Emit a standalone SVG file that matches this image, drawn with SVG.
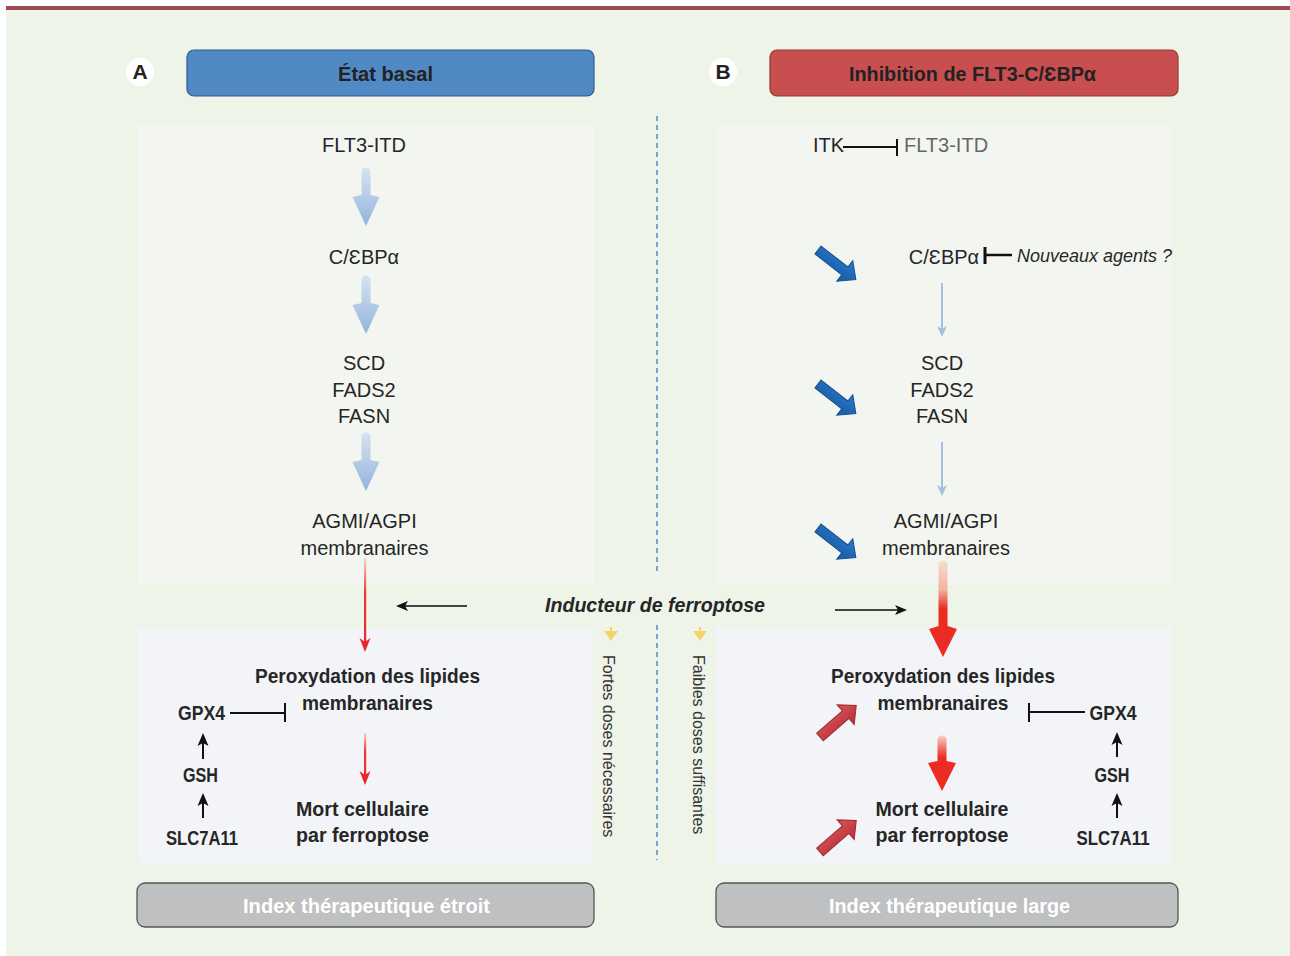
<svg xmlns="http://www.w3.org/2000/svg" xmlns:xlink="http://www.w3.org/1999/xlink" width="1290" height="956" viewBox="0 0 1290 956">
<style>
.reg{font-family:"Liberation Sans",Arial,sans-serif;font-size:20px;fill:#262626;text-anchor:middle}
.bold{font-family:"Liberation Sans",Arial,sans-serif;font-size:21px;font-weight:bold;fill:#262626;text-anchor:middle}
.hdr{font-family:"Liberation Sans",Arial,sans-serif;font-size:21px;font-weight:bold;fill:#222;text-anchor:middle}
.idx{font-family:"Liberation Sans",Arial,sans-serif;font-size:21px;font-weight:bold;fill:#ffffff;text-anchor:middle}
.vert{font-family:"Liberation Sans",Arial,sans-serif;font-size:16px;fill:#333}
.ital{font-family:"Liberation Sans",Arial,sans-serif;font-size:18px;font-style:italic;fill:#262626}
.inh{stroke:#111;stroke-width:2;fill:none}
.blk{stroke:#111;stroke-width:2;fill:none}
.dash{stroke:#5b88c9;stroke-width:1.5;stroke-dasharray:5 4}
</style>
<defs>
<linearGradient id="gBlueLight" x1="0" y1="0" x2="0" y2="1">
<stop offset="0" stop-color="#d6e3f2"/><stop offset="1" stop-color="#93b3dc"/>
</linearGradient>
<linearGradient id="gRedBig" x1="0" y1="0" x2="0" y2="1">
<stop offset="0" stop-color="#f7ddd0"/><stop offset="0.3" stop-color="#f2b39f"/><stop offset="0.5" stop-color="#ec2b23"/><stop offset="1" stop-color="#ec2b23"/>
</linearGradient>
<linearGradient id="gRedBig2" x1="0" y1="0" x2="0" y2="1">
<stop offset="0" stop-color="#f7d0c4"/><stop offset="0.4" stop-color="#ec2b23"/><stop offset="1" stop-color="#ec2b23"/>
</linearGradient>
<linearGradient id="gRedThin" x1="0" y1="0" x2="0" y2="1">
<stop offset="0" stop-color="#f8d3c6"/><stop offset="0.4" stop-color="#ee3a2e"/><stop offset="1" stop-color="#e8282a"/>
</linearGradient>
<linearGradient id="gBlueFat" x1="0" y1="0" x2="0" y2="1">
<stop offset="0" stop-color="#2a78c8"/><stop offset="1" stop-color="#155aa6"/>
</linearGradient>
<linearGradient id="gRedFat" x1="0" y1="0" x2="0" y2="1">
<stop offset="0" stop-color="#d9555a"/><stop offset="1" stop-color="#b92f35"/>
</linearGradient>
<path id="lightArrow" d="M-4.5,4 A4.5,4.5 0 0 1 4.5,4 L4.5,27 L13.5,29 L0,58 L-13.5,29 L-4.5,27 Z" fill="url(#gBlueLight)"/>
<path id="blueFat" d="M0,-5 L34,-5 L34,-13 L48,0 L34,13 L34,5 L0,5 Z" fill="url(#gBlueFat)" stroke="#14508f" stroke-width="1"/>
<path id="redFat" d="M0,-5 L34,-5 L34,-13 L48,0 L34,13 L34,5 L0,5 Z" fill="url(#gRedFat)" stroke="#9c2a2f" stroke-width="1"/>
</defs>

<!-- background -->
<rect x="0" y="0" width="1290" height="956" fill="#ffffff"/>
<rect x="6" y="6" width="1284" height="950" fill="#eef4e8"/>
<rect x="6" y="6" width="1284" height="4" fill="#9b4a56"/>

<!-- panels -->
<g id="panels">
<rect x="138" y="125" width="456" height="460" fill="#f3f6f0"/>
<rect x="716" y="125" width="455" height="460" fill="#f3f6f0"/>
<rect x="138" y="627" width="455" height="236" fill="#f2f4f7"/>
<rect x="716" y="627" width="455" height="236" fill="#f2f4f7"/>
</g>

<line x1="657" y1="116" x2="657" y2="575" class="dash"/>
<line x1="657" y1="625" x2="657" y2="860" class="dash"/>

<!-- headers -->
<g id="labelA">
<circle cx="140" cy="72" r="14" fill="#ffffff"/>
<text x="140" y="79" class="hdr" font-size="19">A</text>
</g>
<g id="headerA">
<rect x="187" y="50" width="407" height="46" rx="7" fill="#5189c4" stroke="#2f5a8c" stroke-width="1.2"/>
<text x="385.5" y="81" class="hdr" textLength="95" lengthAdjust="spacingAndGlyphs">État basal</text>
</g>
<g id="labelB">
<circle cx="723" cy="72" r="14" fill="#ffffff"/>
<text x="723" y="79" class="hdr" font-size="19">B</text>
</g>
<g id="headerB">
<rect x="770" y="50" width="408" height="46" rx="7" fill="#c94e50" stroke="#8e3a2c" stroke-width="1.2"/>
<text x="972.5" y="81" class="hdr" textLength="247" lengthAdjust="spacingAndGlyphs">Inhibition de FLT3-C/ƐBPα</text>
</g>

<!-- left column nodes -->
<g id="A-flt3"><text x="364" y="152" class="reg">FLT3-ITD</text></g>
<g id="A-cebpa"><text x="364" y="264" class="reg">C/ƐBPα</text></g>
<g id="A-enz"><text x="364" y="370" class="reg">SCD</text><text x="364" y="397" class="reg">FADS2</text><text x="364" y="423" class="reg">FASN</text></g>
<g id="A-agmi"><text x="364.5" y="528" class="reg">AGMI/AGPI</text><text x="364.5" y="555" class="reg">membranaires</text></g>
<g id="A-perox"><text x="367.5" y="683" class="bold" textLength="225" lengthAdjust="spacingAndGlyphs">Peroxydation des lipides</text><text x="367.5" y="710" class="bold" textLength="131" lengthAdjust="spacingAndGlyphs">membranaires</text></g>
<g id="A-mort"><text x="362.5" y="816" class="bold" textLength="133" lengthAdjust="spacingAndGlyphs">Mort cellulaire</text><text x="362.5" y="842" class="bold" textLength="133" lengthAdjust="spacingAndGlyphs">par ferroptose</text></g>
<g id="A-gpx4"><text x="201.5" y="720" class="bold" textLength="47" lengthAdjust="spacingAndGlyphs">GPX4</text></g>
<g id="A-gsh"><text x="200.5" y="782" class="bold" textLength="35" lengthAdjust="spacingAndGlyphs">GSH</text></g>
<g id="A-slc"><text x="202" y="845" class="bold" textLength="72" lengthAdjust="spacingAndGlyphs">SLC7A11</text></g>

<!-- right column nodes -->
<g id="B-itk"><text x="813" y="152" class="reg" style="text-anchor:start">ITK</text></g>
<g id="B-flt3"><text x="904" y="152" class="reg" style="text-anchor:start;fill:#666">FLT3-ITD</text></g>
<g id="B-cebpa"><text x="944" y="264" class="reg">C/ƐBPα</text></g>
<g id="B-agents"><text x="1017" y="262" class="ital">Nouveaux agents ?</text></g>
<g id="B-enz"><text x="942" y="370" class="reg">SCD</text><text x="942" y="397" class="reg">FADS2</text><text x="942" y="423" class="reg">FASN</text></g>
<g id="B-agmi"><text x="946" y="528" class="reg">AGMI/AGPI</text><text x="946" y="555" class="reg">membranaires</text></g>
<g id="B-perox"><text x="943" y="683" class="bold" textLength="224" lengthAdjust="spacingAndGlyphs">Peroxydation des lipides</text><text x="943" y="710" class="bold" textLength="131" lengthAdjust="spacingAndGlyphs">membranaires</text></g>
<g id="B-mort"><text x="942" y="816" class="bold" textLength="133" lengthAdjust="spacingAndGlyphs">Mort cellulaire</text><text x="942" y="842" class="bold" textLength="133" lengthAdjust="spacingAndGlyphs">par ferroptose</text></g>
<g id="B-gpx4"><text x="1113" y="720" class="bold" textLength="47" lengthAdjust="spacingAndGlyphs">GPX4</text></g>
<g id="B-gsh"><text x="1112" y="782" class="bold" textLength="35" lengthAdjust="spacingAndGlyphs">GSH</text></g>
<g id="B-slc"><text x="1113" y="845" class="bold" textLength="73" lengthAdjust="spacingAndGlyphs">SLC7A11</text></g>

<!-- center -->
<g id="inducteur"><text x="655" y="612" class="bold" font-style="italic" textLength="220" lengthAdjust="spacingAndGlyphs">Inducteur de ferroptose</text></g>
<g id="fortes"><text transform="translate(603,655) rotate(90)" class="vert">Fortes doses nécessaires</text></g>
<g id="faibles"><text transform="translate(693,655) rotate(90)" class="vert">Faibles doses suffisantes</text></g>

<!-- bottom boxes -->
<g id="indexA">
<rect x="137" y="883" width="457" height="44" rx="8" fill="#bfc0c2" stroke="#555" stroke-width="1.3"/>
<text x="366.5" y="913" class="idx" textLength="247" lengthAdjust="spacingAndGlyphs">Index thérapeutique étroit</text>
</g>
<g id="indexB">
<rect x="716" y="883" width="462" height="44" rx="8" fill="#bfc0c2" stroke="#555" stroke-width="1.3"/>
<text x="949.5" y="913" class="idx" textLength="241" lengthAdjust="spacingAndGlyphs">Index thérapeutique large</text>
</g>

<!-- connectors -->
<g id="connectors">
<use xlink:href="#lightArrow" href="#lightArrow" transform="translate(366,168)"/>
<use xlink:href="#lightArrow" href="#lightArrow" transform="translate(366,276)"/>
<use xlink:href="#lightArrow" href="#lightArrow" transform="translate(366,433)"/>
<rect x="364" y="558" width="2.2" height="86" fill="url(#gRedThin)"/>
<path d="M365,652 L359.5,638 L365,642 L370.5,638 Z" fill="#e8282a"/>
<rect x="364" y="733" width="2.2" height="46" fill="url(#gRedThin)"/>
<path d="M365,785 L359.5,771 L365,775 L370.5,771 Z" fill="#e8282a"/>
<line x1="230" y1="713" x2="285" y2="713" class="inh"/>
<line x1="285" y1="703" x2="285" y2="722" class="inh"/>
<line x1="203" y1="759" x2="203" y2="742" class="blk"/>
<path d="M203,733 L197.5,746 L203,743 L208.5,746 Z" fill="#111"/>
<line x1="203" y1="818" x2="203" y2="802" class="blk"/>
<path d="M203,793 L197.5,806 L203,803 L208.5,806 Z" fill="#111"/>

<line x1="467" y1="606" x2="405" y2="606" stroke="#444" stroke-width="1.8"/>
<path d="M396,606 L408,601 L405,606 L408,611 Z" fill="#111"/>
<line x1="835" y1="610" x2="898" y2="610" stroke="#444" stroke-width="1.8"/>
<path d="M907,610 L895,605 L898,610 L895,615 Z" fill="#111"/>
<path d="M611,627 L611,632 M606,632 L616,632 L611,639 Z" stroke="#f6d36a" stroke-width="2" fill="#f6d36a"/>
<path d="M700,627 L700,632 M695,632 L705,632 L700,639 Z" stroke="#f6d36a" stroke-width="2" fill="#f6d36a"/>

<line x1="843" y1="147" x2="897" y2="147" class="inh"/>
<line x1="897" y1="139" x2="897" y2="156" class="inh"/>
<line x1="985" y1="255" x2="1012" y2="255" stroke="#111" stroke-width="2.5"/>
<line x1="985" y1="247" x2="985" y2="264" stroke="#111" stroke-width="3"/>
<line x1="942" y1="283" x2="942" y2="331" stroke="#a3c0e3" stroke-width="2"/>
<path d="M942,337 L937,326 L942,329 L947,326 Z" fill="#a3c0e3"/>
<line x1="942" y1="442" x2="942" y2="490" stroke="#a3c0e3" stroke-width="2"/>
<path d="M942,496 L937,485 L942,488 L947,485 Z" fill="#a3c0e3"/>
<use xlink:href="#blueFat" href="#blueFat" transform="translate(818,250) rotate(38)"/>
<use xlink:href="#blueFat" href="#blueFat" transform="translate(818,384) rotate(38)"/>
<use xlink:href="#blueFat" href="#blueFat" transform="translate(818,528) rotate(38)"/>
<path d="M938.5,565 A4.5,4.5 0 0 1 947.5,565 L947.5,626 L957,629 L943,657 L929,629 L938.5,626 Z" fill="url(#gRedBig)"/>
<path d="M937.5,740 A4.5,4.5 0 0 1 946.5,740 L946.5,761 L956,763 L942,791 L928,763 L937.5,761 Z" fill="url(#gRedBig2)"/>
<use xlink:href="#redFat" href="#redFat" transform="translate(820,737) rotate(-41)"/>
<use xlink:href="#redFat" href="#redFat" transform="translate(820,852) rotate(-41)"/>
<line x1="1029" y1="712" x2="1085" y2="712" class="inh"/>
<line x1="1029" y1="703" x2="1029" y2="722" class="inh"/>
<line x1="1117" y1="757" x2="1117" y2="741" class="blk"/>
<path d="M1117,732 L1111.5,745 L1117,742 L1122.5,745 Z" fill="#111"/>
<line x1="1117" y1="818" x2="1117" y2="802" class="blk"/>
<path d="M1117,793 L1111.5,806 L1117,803 L1122.5,806 Z" fill="#111"/>
</g>
</svg>
